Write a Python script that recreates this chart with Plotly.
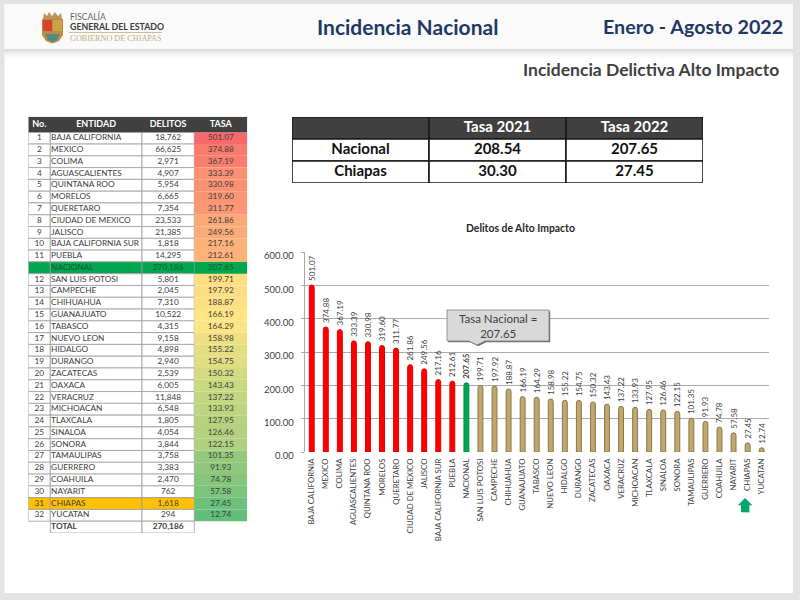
import plotly.graph_objects as go

FONT = "Lato"

numeros = [str(i) for i in range(1, 12)] + [""] + [str(i) for i in range(12, 33)]
entidades = [
    "BAJA CALIFORNIA", "MEXICO", "COLIMA", "AGUASCALIENTES", "QUINTANA ROO", "MORELOS",
    "QUERETARO", "CIUDAD DE MEXICO", "JALISCO", "BAJA CALIFORNIA SUR", "PUEBLA", "NACIONAL",
    "SAN LUIS POTOSI", "CAMPECHE", "CHIHUAHUA", "GUANAJUATO", "TABASCO", "NUEVO LEON",
    "HIDALGO", "DURANGO", "ZACATECAS", "OAXACA", "VERACRUZ", "MICHOACAN", "TLAXCALA",
    "SINALOA", "SONORA", "TAMAULIPAS", "GUERRERO", "COAHUILA", "NAYARIT", "CHIAPAS", "YUCATAN",
]
delitos = [
    18762, 66625, 2971, 4907, 5954, 6665, 7354, 23533, 21385, 1818, 14295, 270186,
    5801, 2045, 7310, 10522, 4315, 9158, 4898, 2940, 2539, 6005, 11848, 6548, 1805,
    4054, 3844, 3758, 3383, 2470, 762, 1618, 294,
]
tasa = [
    501.07, 374.88, 367.19, 333.39, 330.98, 319.60, 311.77, 261.86, 249.56, 217.16, 212.61, 207.65,
    199.71, 197.92, 188.87, 166.19, 164.29, 158.98, 155.22, 154.75, 150.32, 143.43, 137.22, 133.93,
    127.95, 126.46, 122.15, 101.35, 91.93, 74.78, 57.58, 27.45, 12.74,
]
total_delitos = 270186

resumen_filas = ["Nacional", "Chiapas"]
tasa_2021 = [208.54, 30.30]
tasa_2022 = [207.65, 27.45]

y_ticks = [0, 100, 200, 300, 400, 500, 600]

# colour scale of the TASA column, by value
tasa_stops = [
    (12.74, "#63BE7B"), (101.35, "#94C97C"), (150.32, "#D3DA80"), (164.29, "#FFE484"),
    (199.71, "#FFDD82"), (212.61, "#FCB279"), (261.86, "#FCA877"), (333.39, "#FB9072"),
    (374.88, "#FA7A6E"), (501.07, "#F8696B"),
]
cmin, cmax = tasa_stops[0][0], tasa_stops[-1][0]
tasa_scale = [[(v - cmin) / (cmax - cmin), c] for v, c in tasa_stops]


def px_x(x):
    return x / 800


def px_y(y):
    return 1 - y / 600


def dom_x(a, b):
    return [px_x(a), px_x(b)]


def dom_y(top, bottom):
    return [px_y(bottom), px_y(top)]


fig = go.Figure()

# ---- column chart
bar_colors = ["#FF0000"] * 11 + ["#00A651"] + ["#BFA76F"] * 21
bar_lines = ["#E00000"] * 11 + ["#008F45"] + ["#8C7843"] * 21
bar_text = [f"\u00a0\u00a0{v:.2f}" for v in tasa]
bar_text[11] = f"\u00a0\u00a0<b>{tasa[11]:.2f}</b>"

fig.add_trace(go.Bar(
    x=entidades, y=tasa,
    width=0.35,
    marker=dict(color=bar_colors, line=dict(color=bar_lines, width=1), cornerradius=2.5),
    text=bar_text,
    textposition="outside",
    textangle=-90,
    constraintext="none",
    cliponaxis=False,
    textfont=dict(family=FONT, size=8, color="#404040"),
    hoverinfo="x+y",
))

# ---- state table
col_edges = [28.3, 50.3, 142, 194.3, 247.3]
row_pos = list(range(1, 34))
header_pos = -0.16
total_pos = 34
cell_line = dict(color="#9C9C9C", width=0.8)


def cell_colors(base, col):
    out = [base] * 33
    out[11] = "#00A650"
    if col < 3:
        out[31] = "#FFC000"
    return out


for col in range(3):
    fig.add_trace(go.Bar(
        y=row_pos, x=[col_edges[col + 1] - col_edges[col]] * 33, base=col_edges[col],
        orientation="h", width=1, xaxis="x2", yaxis="y2",
        marker=dict(color=cell_colors("#FFFFFF", col), line=cell_line),
        hoverinfo="skip",
    ))

fig.add_trace(go.Bar(
    y=row_pos, x=[col_edges[4] - col_edges[3]] * 33, base=col_edges[3],
    orientation="h", width=1, xaxis="x2", yaxis="y2",
    marker=dict(color=tasa, colorscale=tasa_scale, cmin=cmin, cmax=cmax, line=dict(width=0)),
    hoverinfo="skip",
))
# NACIONAL tasa cell sits on top of the colour scale
fig.add_trace(go.Bar(
    y=[row_pos[11]], x=[col_edges[4] - col_edges[3]], base=col_edges[3],
    orientation="h", width=1, xaxis="x2", yaxis="y2",
    marker=dict(color="#00A650", line=dict(width=0)),
    hoverinfo="skip",
))
# header and total rows
fig.add_trace(go.Bar(
    y=[header_pos], x=[col_edges[4] - col_edges[0]], base=col_edges[0],
    orientation="h", width=1.32, xaxis="x2", yaxis="y2",
    marker=dict(color="#404040", line=dict(width=0)),
    hoverinfo="skip",
))
for col in (1, 2):
    fig.add_trace(go.Bar(
        y=[total_pos], x=[col_edges[col + 1] - col_edges[col]], base=col_edges[col],
        orientation="h", width=1, xaxis="x2", yaxis="y2",
        marker=dict(color="#FFFFFF", line=cell_line),
        hoverinfo="skip",
    ))


def table_text(x, y, text, size=8.3, color="#404040", position="middle center", xa="x2", ya="y2"):
    fig.add_trace(go.Scatter(
        x=x, y=y, text=text, mode="text", textposition=position,
        textfont=dict(family=FONT, size=size, color=color),
        xaxis=xa, yaxis=ya, hoverinfo="skip", cliponaxis=False,
    ))


row_colors = ["#404040"] * 33
row_colors[11] = "#155F30"
no_x = (col_edges[0] + col_edges[1]) / 2
del_x = (col_edges[2] + col_edges[3]) / 2
tasa_x = (col_edges[3] + col_edges[4]) / 2

table_text([no_x] * 33, row_pos, numeros, color=row_colors)
table_text([col_edges[1] + 0.8] * 33, row_pos, entidades, color=row_colors, position="middle right")
table_text([del_x] * 33, row_pos, [f"{d:,}" for d in delitos], color=row_colors)
table_text([tasa_x] * 33, row_pos, [f"{v:.2f}" for v in tasa], color=row_colors)
table_text(
    [no_x, (col_edges[1] + col_edges[2]) / 2, del_x, tasa_x], [header_pos] * 4,
    ["<b>No.</b>", "<b>ENTIDAD</b>", "<b>DELITOS</b>", "<b>TASA</b>"], color="#FFFFFF", size=9,
)
table_text([col_edges[1] + 0.8], [total_pos], ["<b>TOTAL</b>"], position="middle right")
table_text([del_x], [total_pos], [f"<b>{total_delitos:,}</b>"])

# ---- summary table
res_edges = [292, 429, 566, 703]
res_rows = [0, 1, 2]
res_line = dict(color="#1A1A1A", width=1.6)
for col in range(3):
    fig.add_trace(go.Bar(
        y=res_rows, x=[res_edges[col + 1] - res_edges[col]] * 3, base=res_edges[col],
        orientation="h", width=1, xaxis="x3", yaxis="y3",
        marker=dict(color=["#404040", "#FFFFFF", "#FFFFFF"], line=res_line),
        hoverinfo="skip",
    ))
res_centers = [(res_edges[i] + res_edges[i + 1]) / 2 for i in range(3)]
table_text(res_centers[1:], [0, 0], ["<b>Tasa 2021</b>", "<b>Tasa 2022</b>"],
           size=15, color="#FFFFFF", xa="x3", ya="y3")
table_text([res_centers[0]] * 2, [1, 2], [f"<b>{n}</b>" for n in resumen_filas],
           size=15, color="#111111", xa="x3", ya="y3")
table_text([res_centers[1]] * 2, [1, 2], [f"<b>{v:.2f}</b>" for v in tasa_2021],
           size=15, color="#111111", xa="x3", ya="y3")
table_text([res_centers[2]] * 2, [1, 2], [f"<b>{v:.2f}</b>" for v in tasa_2022],
           size=15, color="#111111", xa="x3", ya="y3")

# ---- page furniture
shapes = [
    dict(type="rect", xref="paper", yref="paper", layer="below",
         x0=px_x(4.5), x1=px_x(793), y0=px_y(593), y1=px_y(4),
         fillcolor="#FFFFFF", line=dict(width=0)),
    dict(type="rect", xref="paper", yref="paper", layer="below",
         x0=px_x(4.5), x1=px_x(793), y0=px_y(49.5), y1=px_y(4),
         fillcolor="#FAFAFA", line=dict(width=0)),
]
for i, c in enumerate(["#C4C4C4", "#D6D6D6", "#E2E2E2", "#E9E9E9", "#EEEEEE", "#F2F2F2",
                       "#F5F5F5", "#F8F8F8", "#FAFAFA", "#FDFDFD"]):
    shapes.append(dict(type="rect", xref="paper", yref="paper", layer="below",
                       x0=px_x(4.5), x1=px_x(793), y0=px_y(50.5 + i), y1=px_y(49.5 + i),
                       fillcolor=c, line=dict(width=0)))


def path_shape(points, fill, layer="above", line=None):
    d = "M " + " L ".join(f"{px_x(x):.5f},{px_y(y):.5f}" for x, y in points) + " Z"
    return dict(type="path", path=d, xref="paper", yref="paper", layer=layer,
                fillcolor=fill, line=line or dict(width=0))


# emblem
shapes += [
    path_shape([(42, 19), (63, 19), (63, 35), (59, 41), (52.5, 43.5), (46, 41), (42, 35)], "#C08A3A"),
    path_shape([(43, 20), (52, 20), (52, 31), (43, 31)], "#D2452B"),
    path_shape([(53, 20), (62, 20), (62, 31), (53, 31)], "#C9A24A"),
    path_shape([(45, 34), (60, 34), (57, 40), (52.5, 42), (48, 40)], "#4E8C8A"),
    path_shape([(43, 19), (44, 13), (47, 16), (49, 12), (52, 16), (55, 12), (58, 16), (61, 13), (62, 19)], "#B9975B"),
]
# logo rule
shapes.append(dict(type="line", xref="paper", yref="paper", layer="above",
                   x0=px_x(69), x1=px_x(162), y0=px_y(32.5), y1=px_y(32.5),
                   line=dict(color="#C9BE94", width=1)))

# callout
callout = [(447, 310), (549, 310), (549, 341), (485, 341), (477, 345), (469, 341), (447, 341)]
shapes.append(path_shape([(x + 1.2, y + 1.2) for x, y in callout], "#6E6E6E"))
shapes.append(path_shape(callout, "#D9D9D9", line=dict(color="#7F7F7F", width=0.8)))

# arrow under CHIAPAS
arrow = [(745, 498), (752, 505), (749, 505), (749, 512), (741, 512), (741, 505), (738, 505)]
shapes.append(path_shape([(x + 0.8, y + 0.8) for x, y in arrow], "#9CCFB2"))
shapes.append(path_shape(arrow, "#00A86B"))


def page_text(x, y, text, size, color, anchor="left", family=FONT):
    return dict(x=px_x(x), y=px_y(y), xref="paper", yref="paper", text=text, showarrow=False,
                xanchor=anchor, yanchor="middle", align="center",
                font=dict(family=family, size=size, color=color))


annotations = [
    page_text(407.5, 26, "<b>Incidencia Nacional</b>", 21, "#1F3864", "center"),
    page_text(785, 26, "<b>Enero - Agosto 2022</b>", 19.7, "#1F3864", "right"),
    page_text(781, 69, "<b>Incidencia Delictiva Alto Impacto</b>", 17.5, "#404040", "right"),
    page_text(520, 228, "<b>Delitos de Alto Impacto</b>", 10.4, "#262626", "center"),
    page_text(498, 325.5, "Tasa Nacional =<br>207.65", 11.5, "#404040", "center"),
    page_text(68, 16.5, "FISCALÍA", 8.5, "#666666"),
    page_text(68, 26, "<b>GENERAL DEL ESTADO</b>", 8.8, "#3B3B3B"),
    page_text(68, 39, "GOBIERNO DE CHIAPAS", 8.2, "#BDAE7C", family="Liberation Serif"),
]

fig.update_layout(
    width=800, height=600,
    margin=dict(l=0, r=0, t=0, b=0, autoexpand=False),
    paper_bgcolor="#E3E3E3",
    plot_bgcolor="rgba(0,0,0,0)",
    showlegend=False,
    barmode="overlay",
    font=dict(family=FONT, color="#404040"),
    shapes=shapes,
    annotations=annotations,
    xaxis=dict(
        domain=dom_x(304.7, 768.7), range=[-0.5, 32.5], type="category",
        categoryorder="array", categoryarray=entidades, tickmode="linear",
        tickangle=-90, tickfont=dict(family=FONT, size=7.8, color="#404040"),
        showgrid=False, zeroline=False, showline=False, ticks="", ticklabelstandoff=4,
        automargin=False,
    ),
    yaxis=dict(
        domain=dom_y(252, 452), range=[0, 600], tickvals=y_ticks, tickformat=".2f",
        tickfont=dict(family=FONT, size=9.5, color="#404040"),
        gridcolor="#ABABAB", gridwidth=1, zeroline=False,
        showline=True, linecolor="#ABABAB", ticks="outside", ticklen=3, tickcolor="#ABABAB",
        ticklabelshift=4, ticklabelstandoff=5, automargin=False,
    ),
    xaxis2=dict(domain=dom_x(28.3, 247.3), range=[28.3, 247.3], visible=False, anchor="y2"),
    yaxis2=dict(domain=dom_y(116.7, 533), range=[34.5, -0.82], visible=False, anchor="x2"),
    xaxis3=dict(domain=dom_x(292, 703), range=[292, 703], visible=False, anchor="y3"),
    yaxis3=dict(domain=dom_y(117, 183), range=[2.5, -0.5], visible=False, anchor="x3"),
)

fig.write_html("out.html", config=dict(displayModeBar=False),
               post_script="document.body.style.margin='0';")
